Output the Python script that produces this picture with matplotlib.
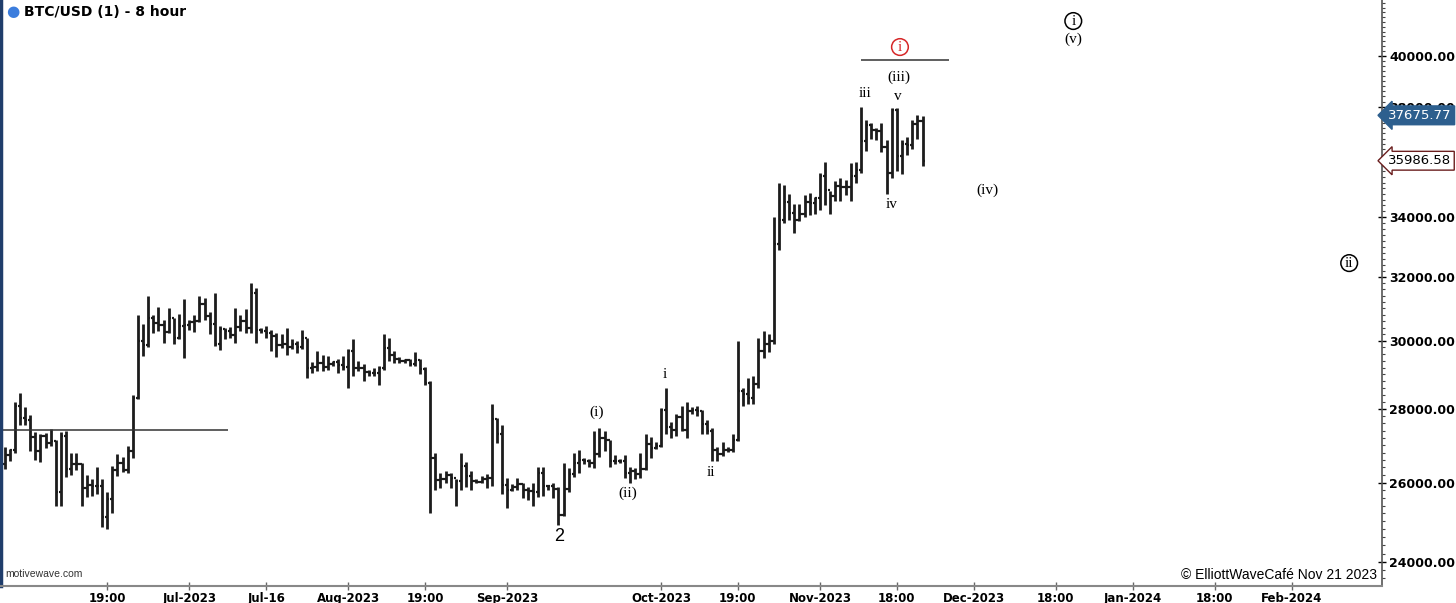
import numpy as np
import matplotlib
matplotlib.use("Agg")
import matplotlib.pyplot as plt
from matplotlib.ticker import FixedLocator, MultipleLocator, NullFormatter
import matplotlib.transforms as mtransforms

# - - - - daily OHLC (day 0 = 1 Jul 2023) - - - - #
first_day = -36          # 26 May 2023
first_open = 26480
highs = [26950, 26900, 28200, 28450, 28050, 27830, 27350, 27300, 27330, 27450,
         27130, 27350, 27380, 26800, 26780, 26530, 26200, 26100, 26400, 26100,
         25750, 26450, 26770, 26680, 26970, 28400, 30800, 30500, 31400, 30800,
         31050, 30650, 31000, 30700, 30830, 31280, 30650, 30790, 31380, 31320,
         30880, 31500, 30450, 30380, 30430, 31000, 30800, 30980, 31820, 31640,
         30400, 30450, 30330, 30230, 30200, 30400, 30050, 30000, 30340, 30100,
         29380, 29680, 29580, 29530, 29390, 29450, 29530, 29750, 30050, 29400,
         29320, 29120, 29180, 29240, 30200, 30100, 29700, 29520, 29450, 29460,
         29650, 29450, 29230, 28800, 26800, 26250, 26300, 26250, 26100, 26800,
         26550, 26300, 26100, 26170, 26220, 28150, 27750, 27560, 26130, 25970,
         26120, 26000, 25880, 26000, 26400, 26420, 25940, 25980, 25880, 26530,
         26380, 26800, 26880, 26650, 26620, 27400, 27480, 27380, 27150, 26730,
         26620, 26720, 26420, 26390, 26800, 27300, 27220, 27080, 28040, 28600,
         27650, 27850, 28100, 28200, 28050, 28100, 27980, 27700, 27480, 26950,
         27100, 26950, 27300, 30000, 28600, 28900, 28950, 30100, 30300, 30200,
         34000, 35200, 35100, 34800, 34450, 34450, 34750, 34850, 34700, 35550,
         35950, 34900, 35250, 35350, 35300, 35900, 35950, 38000, 37500, 37400,
         37200, 37400, 36750, 37950, 37950, 36750, 36850, 37500, 37700, 37650]
lows = [26350, 26560, 26800, 27550, 27550, 26850, 26600, 26550, 26930, 26970,
        25400, 25400, 26150, 26200, 26320, 25400, 25620, 25650, 25700, 24850,
        24800, 25200, 26180, 26280, 26250, 26650, 28300, 29550, 29820, 30250,
        30300, 29950, 30250, 29900, 30050, 29500, 30330, 30280, 30580, 30650,
        30220, 29850, 29720, 30050, 30090, 29950, 30300, 30250, 30250, 29950,
        30250, 30100, 29700, 29520, 29780, 29560, 29740, 29630, 29750, 28900,
        29050, 29100, 29100, 29130, 29260, 29050, 29120, 28600, 28950, 29100,
        28820, 28950, 28960, 28700, 29120, 29400, 29350, 29330, 29350, 29250,
        29250, 29000, 28700, 25200, 25800, 25850, 25980, 25850, 25400, 25800,
        25880, 25800, 25980, 25990, 25860, 25920, 27050, 25700, 25350, 25770,
        25800, 25600, 25550, 25400, 25620, 25650, 25800, 25600, 24900, 25130,
        25760, 26150, 26250, 26480, 26400, 26390, 26680, 26850, 26400, 26500,
        26520, 26130, 26000, 26100, 26120, 26330, 26650, 26900, 26950, 27300,
        27200, 27250, 27380, 27200, 27850, 27820, 27300, 27300, 26580, 26560,
        26700, 26820, 26820, 27120, 28100, 28150, 28150, 28600, 29500, 29650,
        29900, 32900, 33800, 33900, 33450, 33850, 34000, 34050, 34100, 34250,
        34400, 34100, 34550, 34550, 34750, 34550, 35200, 35550, 36350, 36800,
        36750, 36300, 34800, 35350, 35600, 35500, 36200, 36400, 36800, 35800]
closes = [26720, 26860, 28080, 27740, 27700, 27220, 26830, 27250, 27070, 27120,
          25760, 27240, 26350, 26500, 26480, 25850, 25940, 25900, 25920, 25120,
          25580, 26330, 26510, 26340, 26850, 28310, 30000, 29890, 30690, 30550,
          30470, 30270, 30700, 30080, 30450, 30480, 30590, 30620, 31150, 30770,
          30510, 29900, 30350, 30290, 30170, 30420, 30620, 30390, 31480, 30330,
          30300, 30240, 30140, 29860, 29920, 29800, 29910, 29800, 30090, 29180,
          29230, 29350, 29220, 29320, 29360, 29280, 29230, 29700, 29180, 29180,
          29070, 29050, 29040, 29180, 29770, 29570, 29450, 29400, 29420, 29300,
          29420, 29170, 28750, 26650, 26070, 26100, 26190, 26120, 26040, 26430,
          26160, 26050, 26010, 26090, 26110, 27720, 27300, 25930, 25800, 25870,
          25970, 25810, 25780, 25750, 26240, 25910, 25900, 25840, 25160, 25840,
          26230, 26530, 26610, 26570, 26530, 26760, 27210, 27130, 26570, 26580,
          26580, 26250, 26300, 26220, 26350, 27020, 26920, 26970, 27980, 27500,
          27430, 27790, 27420, 27950, 27970, 27940, 27580, 27390, 26870, 26750,
          26870, 26860, 27150, 28520, 28420, 28330, 28720, 29680, 29920, 29990,
          33080, 33900, 34500, 34150, 33900, 34100, 34530, 34490, 34650, 35420,
          34940, 34720, 35080, 35040, 35050, 35420, 35640, 36700, 37310, 37130,
          37070, 36490, 35540, 37880, 36160, 36600, 36580, 37360, 37450, 35986.58]

last_price = 35986.58
marker_price = 37675.77
h_level = 27420

# x axis labels (days from 1 Jul 2023)
tick_days = [-16, 0, 15, 31, 46, 62, 92, 107, 123, 138, 153, 169, 184, 200, 215]
tick_labels = ["19:00", "Jul-2023", "Jul-16", "Aug-2023", "19:00", "Sep-2023",
               "Oct-2023", "19:00", "Nov-2023", "18:00", "Dec-2023", "18:00",
               "Jan-2024", "18:00", "Feb-2024"]
price_ticks = [24000, 26000, 28000, 30000, 32000, 34000, 36000, 38000, 40000]
# 36000 sits fully under the last-price box in the original
price_tick_labels = ["24000.00", "26000.00", "28000.00", "30000.00", "32000.00",
                     "34000.00", "", "38000.00", "40000.00"]

# wave labels: (text, day, price)
wave_labels = [("(i)", 79.4, 27924), ("(ii)", 85.5, 25725), ("i", 92.7, 29012),
               ("ii", 101.7, 26276), ("iii", 131.7, 38533), ("v", 138.1, 38416),
               ("(iii)", 138.3, 39160), ("iv", 136.9, 34444), ("(iv)", 155.6, 34937),
               ("(v)", 172.4, 40693)]
circled = [("i", 138.6, 40366, "#d62728"), ("i", 172.4, 41440, "black"),
           ("ii", 226.2, 32452, "black")]

# - - - - figure - - - - #
fig = plt.figure(figsize=(14.56, 6.03), dpi=100)
ax = fig.add_axes([1 / 1456, 17 / 603, 1381 / 1456, 586 / 603])

days = np.arange(len(closes)) + first_day
highs = np.array(highs, dtype=float)
lows = np.array(lows, dtype=float)
closes = np.array(closes, dtype=float)
opens = np.concatenate([[first_open], closes[:-1]])

bar_col = "#1c1c1c"
ax.vlines(days, lows, highs, color=bar_col, lw=2.0)
ax.hlines(opens, days - 0.45, days, color=bar_col, lw=1.6)
ax.hlines(closes, days, days + 0.45, color=bar_col, lw=1.6)

ax.set_yscale("log")
ax.set_ylim(23420, 42330)
ax.set_xlim(-36.7, 232.6)

# horizontal reference line and the line under the red circled i
ax.hlines(h_level, -37, 7.5, color="#333333", lw=1.1)
ax.hlines(39840, 131.1, 148.1, color="#333333", lw=1.1)

# axes styling
ax.spines["top"].set_visible(False)
ax.spines["left"].set_color("#1f3d6b")
ax.spines["left"].set_linewidth(2.5)
ax.spines["right"].set_color("#555555")
ax.spines["right"].set_linewidth(1.2)
ax.spines["bottom"].set_color("#888888")
ax.spines["bottom"].set_linewidth(1.5)

ax.yaxis.tick_right()
ax.yaxis.set_major_locator(FixedLocator(price_ticks))
ax.yaxis.set_minor_locator(MultipleLocator(200))
ax.yaxis.set_minor_formatter(NullFormatter())
ax.set_yticklabels(price_tick_labels)
ax.tick_params(axis="y", which="major", direction="inout", length=6, width=1,
               pad=2, labelsize=9, colors="black")
ax.tick_params(axis="y", which="minor", direction="out", length=2.5, width=0.8,
               color="#444444")
for t in ax.get_yticklabels():
    t.set_fontweight("bold")

ax.set_xticks(tick_days)
ax.set_xticklabels(tick_labels)
ax.tick_params(axis="x", which="major", direction="inout", length=6, width=1,
               pad=1, labelsize=8.5, color="#666666")
for t in ax.get_xticklabels():
    t.set_fontweight("bold")
ax.tick_params(axis="x", which="minor", bottom=False)

# price boxes on the right axis
tr = mtransforms.blended_transform_factory(ax.transAxes, ax.transData)
ax.text(1.0045, marker_price, f"{marker_price:.2f}", transform=tr, fontsize=9.5,
        color="white", va="center", ha="left", clip_on=False, zorder=6,
        bbox=dict(boxstyle="larrow,pad=0.22", fc="#2d5f8e", ec="#2d5f8e"))
ax.text(1.0045, last_price, f"{last_price:.2f}", transform=tr, fontsize=9.5,
        color="black", va="center", ha="left", clip_on=False, zorder=6,
        bbox=dict(boxstyle="larrow,pad=0.22", fc="white", ec="#6b1f1f", lw=1))

# wave labels
serif = ["Liberation Serif", "DejaVu Serif"]
for txt, d, p in wave_labels:
    ax.text(d, p, txt, ha="center", va="center", fontsize=11, family=serif)
for txt, d, p, c in circled:
    ax.text(d, p, txt, ha="center", va="center", fontsize=11, family=serif,
            color=c, bbox=dict(boxstyle="circle,pad=0.12", fc="none", ec=c, lw=1.1))
ax.text(72.2, 24632, "2", ha="center", va="center", fontsize=13,
        family=["Liberation Sans", "DejaVu Sans"])

# header and footers
fig.text(13 / 1456, 1 - 11 / 603, "\u25CF", color="#3b7ddd", fontsize=11,
         ha="center", va="center")
fig.text(24 / 1456, 1 - 12 / 603, "BTC/USD (1) - 8 hour", fontsize=10,
         fontweight="bold", ha="left", va="center")
fig.text(5 / 1456, 1 - 574 / 603, "motivewave.com", fontsize=7.5, color="#333333",
         ha="left", va="center", family=["Liberation Sans", "DejaVu Sans"])
fig.text(1377 / 1456, 1 - 575 / 603, "\u00A9 ElliottWaveCaf\u00E9 Nov 21 2023",
         fontsize=10, ha="right", va="center",
         family=["Liberation Sans", "DejaVu Sans"])

fig.savefig("out.png", dpi=100)
